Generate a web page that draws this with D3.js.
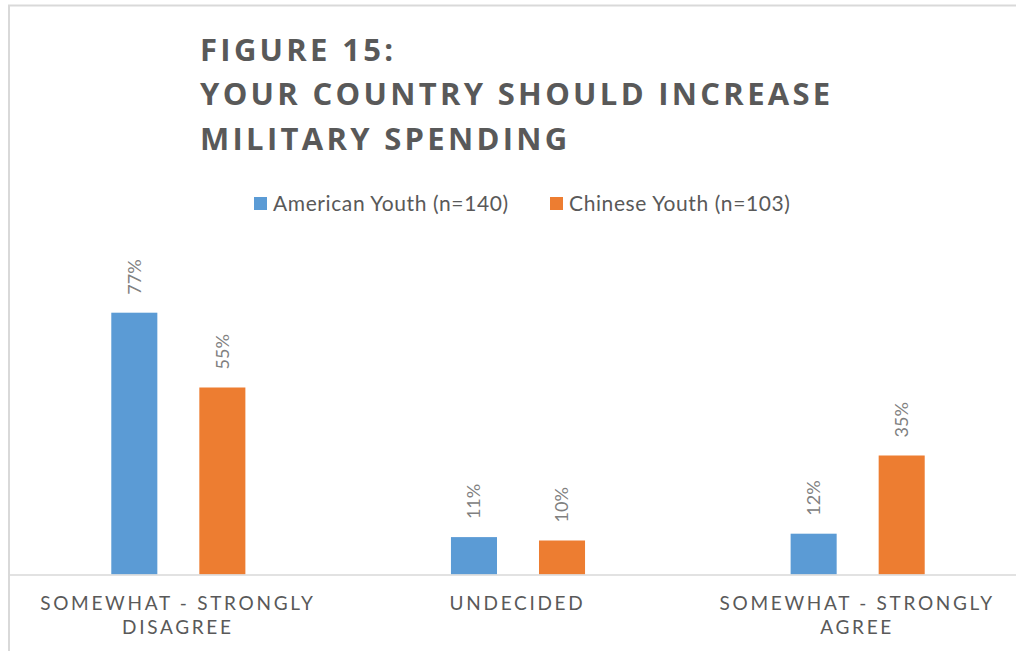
<!DOCTYPE html>
<html>
<head>
<meta charset="utf-8">
<script src="https://cdn.jsdelivr.net/npm/d3@7"></script>
<style>
  html, body { margin: 0; padding: 0; background: #fff; }
  svg { display: block; }
</style>
</head>
<body>
<svg id="chart" width="1016" height="651"></svg>
<script>
// Survey results: "Your country should increase military spending"
const titleLines = ["FIGURE 15:", "YOUR COUNTRY SHOULD INCREASE", "MILITARY SPENDING"];
const categories = ["SOMEWHAT - STRONGLY DISAGREE", "UNDECIDED", "SOMEWHAT - STRONGLY AGREE"];
const categoryLines = [["SOMEWHAT - STRONGLY", "DISAGREE"], ["UNDECIDED"], ["SOMEWHAT - STRONGLY", "AGREE"]];
const seriesNames = ["American Youth (n=140)", "Chinese Youth (n=103)"];
const americanYouth = [0.77, 0.11, 0.12];
const chineseYouth = [0.55, 0.10, 0.35];
const seriesColors = ["#5B9BD5", "#ED7D31"];

const series = [americanYouth, chineseYouth];
const rows = categories.map((c, i) => ({
  category: c,
  values: seriesNames.map((s, j) => ({ series: s, value: series[j][i], color: seriesColors[j] }))
}));

const svg = d3.select("#chart");
const W = 1016, H = 651;

// chart-area frame
svg.append("rect")
  .attr("x", 9).attr("y", 5.5)
  .attr("width", W + 20).attr("height", H + 20)
  .attr("fill", "#fff")
  .attr("stroke", "#d9d9d9")
  .attr("stroke-width", 2);

// title
const title = svg.append("g")
  .attr("font-family", "'Open Sans', sans-serif")
  .attr("font-weight", 700)
  .attr("font-size", 31)
  .attr("fill", "#595959")
  .style("letter-spacing", "3.3px");
title.selectAll("text").data(titleLines).join("text")
  .attr("x", 200)
  .attr("y", (d, i) => 60.5 + i * 44.5)
  .text(d => d);

// legend
const legendX = [254, 550];
const legend = svg.append("g")
  .attr("font-family", "Lato, sans-serif")
  .attr("font-size", 21)
  .attr("fill", "#595959")
  .style("letter-spacing", "0.6px");
const li = legend.selectAll("g").data(seriesNames).join("g")
  .attr("transform", (d, i) => `translate(${legendX[i]},197)`);
li.append("rect").attr("width", 13).attr("height", 13).attr("fill", (d, i) => seriesColors[i]);
li.append("text").attr("x", 19).attr("y", 14).text(d => d);

// scales
const baseY = 574.5;
const x0 = d3.scaleBand().domain(categories).range([8.5, 1027.5]).paddingInner(0).paddingOuter(0);
const x1 = d3.scaleBand().domain(seriesNames).range([0, x0.bandwidth()])
  .paddingInner(0.477).paddingOuter(1.1676);
const y = d3.scaleLinear().domain([0, 0.9]).range([baseY, baseY - 306]);

// bars
const groups = svg.append("g").selectAll("g").data(rows).join("g")
  .attr("transform", d => `translate(${x0(d.category)},0)`);

groups.selectAll("rect").data(d => d.values).join("rect")
  .attr("x", d => x1(d.series))
  .attr("y", d => y(d.value))
  .attr("width", x1.bandwidth())
  .attr("height", d => y(0) - y(d.value))
  .attr("fill", d => d.color);

// rotated value labels
groups.selectAll("text").data(d => d.values).join("text")
  .attr("transform", d => `translate(${x1(d.series) + x1.bandwidth() / 2},${y(d.value) - 18}) rotate(-90)`)
  .attr("dy", "0.35em")
  .attr("font-family", "Lato, sans-serif")
  .attr("font-size", 18)
  .attr("fill", "#808080")
  .text(d => d3.format(".0%")(d.value));

// category axis
const axis = svg.append("g")
  .attr("transform", `translate(0,${baseY})`)
  .call(d3.axisBottom(x0).tickSize(0).tickFormat(""));
axis.select(".domain").attr("stroke", "#d9d9d9").attr("stroke-width", 1.5);

const labels = svg.append("g")
  .attr("font-family", "Lato, sans-serif")
  .attr("font-size", 19)
  .attr("fill", "#595959")
  .attr("text-anchor", "middle")
  .style("letter-spacing", "2.7px");
labels.selectAll("text").data(categories).join("text")
  .attr("transform", d => `translate(${x0(d) + x0.bandwidth() / 2 - 0.5},610)`)
  .selectAll("tspan").data((d, i) => categoryLines[i]).join("tspan")
  .attr("x", 0)
  .attr("y", (d, i) => i * 23.5)
  .text(d => d);
</script>
</body>
</html>
